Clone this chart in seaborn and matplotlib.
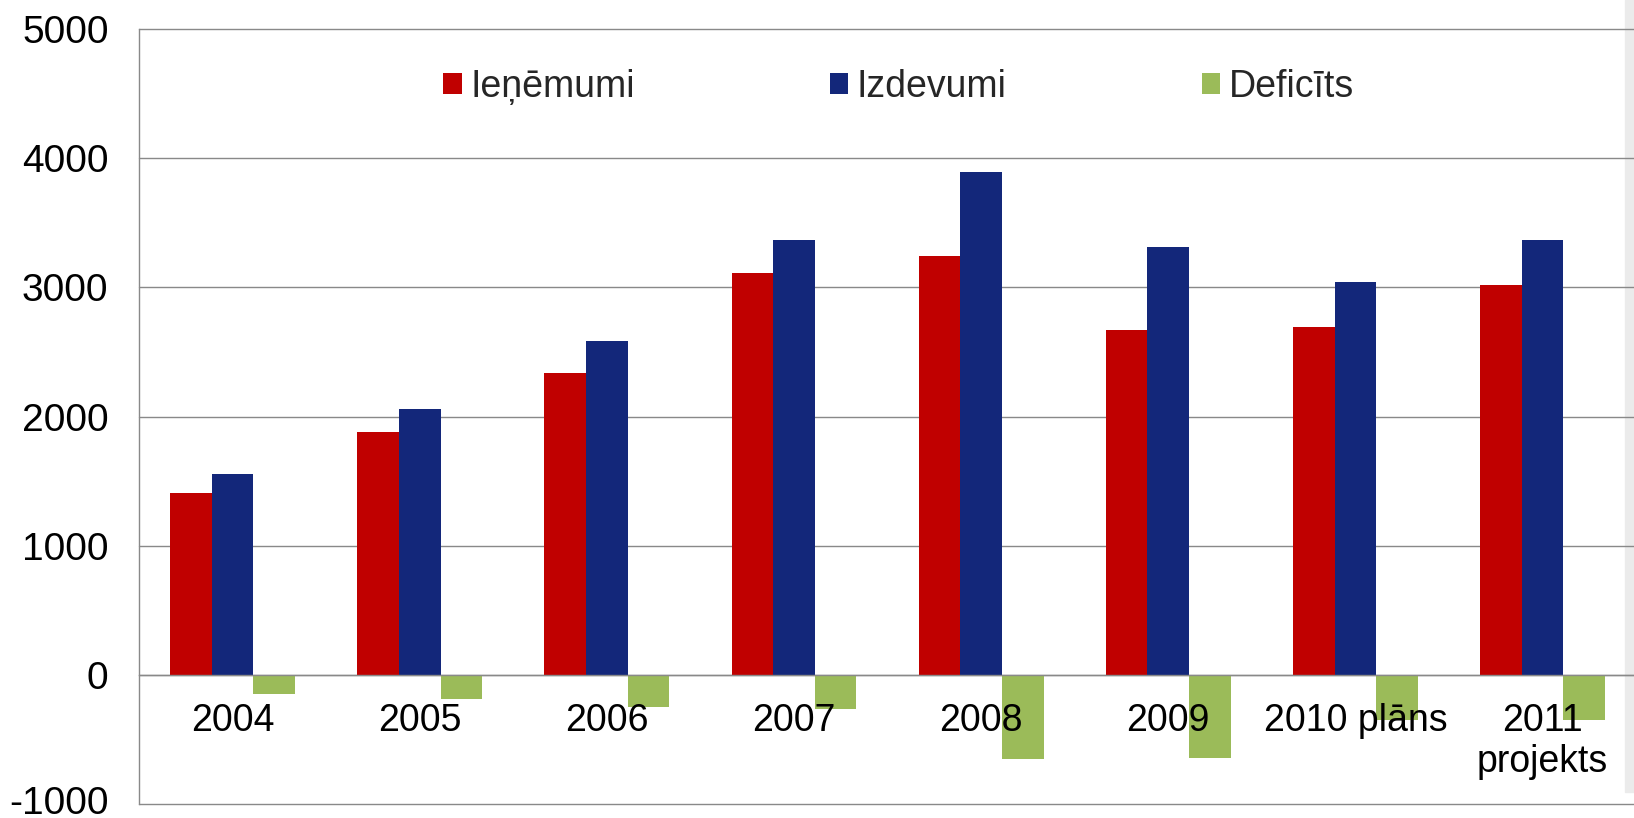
import seaborn as sns
import matplotlib.pyplot as plt
import pandas as pd
from matplotlib.patches import Rectangle
from matplotlib.ticker import FixedLocator
from matplotlib.transforms import ScaledTranslation

years = ["2004", "2005", "2006", "2007", "2008", "2009", "2010 plāns", "2011\nprojekts"]
ienemumi = [1410, 1877, 2334, 3110, 3244, 2671, 2690, 3020]
izdevumi = [1557, 2060, 2581, 3370, 3897, 3313, 3045, 3367]
deficits = [-147, -186, -248, -263, -655, -642, -350, -347]
series_names = ["Ieņēmumi", "Izdevumi", "Deficīts"]
colors = ["#c00000", "#13277a", "#9bbb59"]
yticks = [-1000, 0, 1000, 2000, 3000, 4000, 5000]

df = pd.DataFrame({
    "year": years * 3,
    "value": ienemumi + izdevumi + deficits,
    "series": [series_names[0]] * 8 + [series_names[1]] * 8 + [series_names[2]] * 8,
})

sns.set_style("white")
plt.rcParams["font.family"] = ["Liberation Sans", "DejaVu Sans"]
plt.rcParams["axes.unicode_minus"] = False

fig = plt.figure(figsize=(16.34, 8.18), dpi=100)
# gray strip on the right edge
fig.patches.append(Rectangle((0.9945, 0.0318), 0.0055, 0.9682, transform=fig.transFigure,
                             color="#ebebeb", zorder=-1))
ax = fig.add_axes([0.0851, 0.0171, 0.9162, 0.9474])
ax.set_facecolor("none")

sns.barplot(
    data=df, x="year", y="value", hue="series",
    palette=colors, saturation=1, width=0.667,
    linewidth=0, errorbar=None, ax=ax,
)

ax.set_xlim(-0.5, 7.5)
ax.set_ylim(-1000, 5000)
ax.set_xlabel("")
ax.set_ylabel("")

gray = "#898989"
ax.yaxis.set_major_locator(FixedLocator(yticks))
ax.grid(False)
# gridlines behind the bars, tick labels in front of them
for y in yticks:
    ax.axhline(y, color=gray, linewidth=1.0, zorder=0.5, clip_on=False)
ax.set_axisbelow(False)

for s in ["top", "right"]:
    ax.spines[s].set_visible(False)
ax.spines["left"].set_color(gray)
ax.spines["left"].set_linewidth(1.0)
ax.spines["bottom"].set_position(("data", 0))
ax.spines["bottom"].set_color(gray)
ax.spines["bottom"].set_linewidth(1.0)

ax.tick_params(axis="y", length=8, width=1.0, color=gray, pad=14, labelsize=28, labelcolor="black")
ax.set_xticks(range(8), labels=years)
ax.set_xticks([i + 0.5 for i in range(7)], minor=True)
ax.tick_params(axis="x", which="major", length=0, pad=20, labelsize=27, labelcolor="black")
ax.tick_params(axis="x", which="minor", length=8, width=1.0, color=gray, direction="out")

# lift the lowest y label a little so it stays inside the picture
fig.canvas.draw()
low = ax.get_yticklabels()[0]
low.set_transform(low.get_transform() + ScaledTranslation(0, 4 / 100, fig.dpi_scale_trans))

handles, labels = ax.get_legend_handles_labels()
ax.get_legend().remove()
ax.legend(handles, labels, loc="center", bbox_to_anchor=(0.5499, 0.894),
          bbox_transform=fig.transFigure, ncol=3, frameon=False, fontsize=27,
          handlelength=0.5, handleheight=0.5, handletextpad=0.22,
          columnspacing=5.2, borderpad=0)

plt.savefig("out.png", dpi=100)
